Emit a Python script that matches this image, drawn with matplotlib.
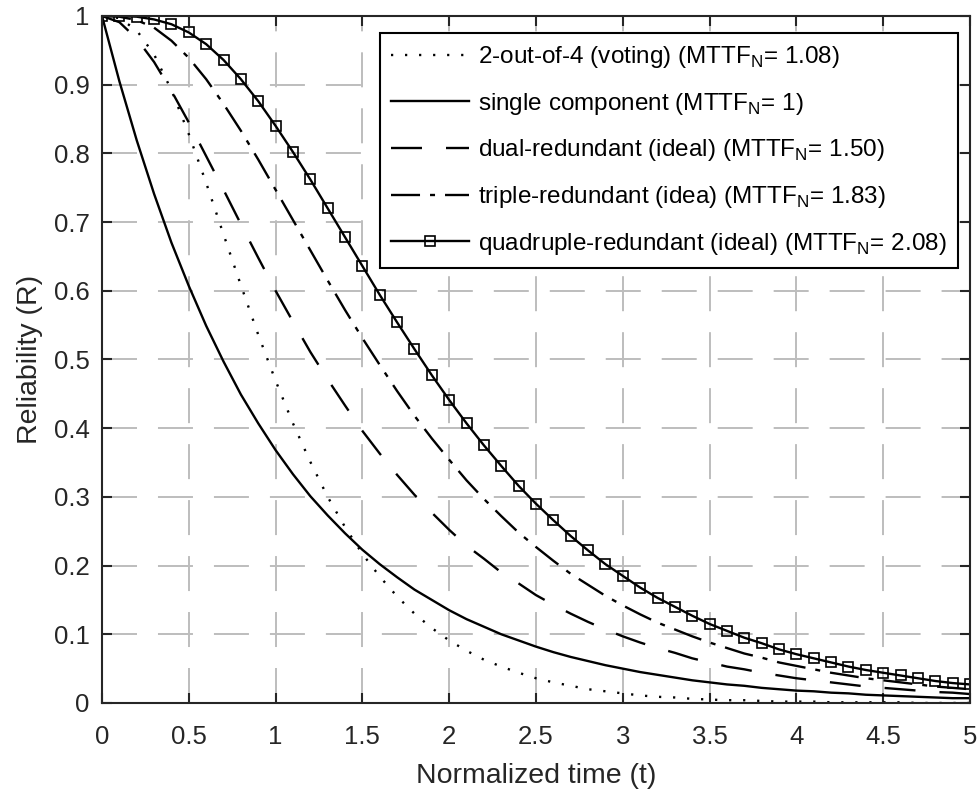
import numpy as np
import matplotlib
matplotlib.use('Agg')
import matplotlib.pyplot as plt

plt.rcParams['font.family'] = ['Liberation Sans', 'DejaVu Sans']
plt.rcParams['mathtext.fontset'] = 'custom'
plt.rcParams['mathtext.rm'] = 'Liberation Sans'
plt.rcParams['lines.scale_dashes'] = False

# normalized time, step 0.1 from 0 to 5
t = [round(0.1 * i, 1) for i in range(51)]

r_voting = [1.000, 0.997, 0.979, 0.944, 0.892, 0.828, 0.757, 0.682, 0.608, 0.536,
            0.469, 0.407, 0.351, 0.300, 0.256, 0.217, 0.184, 0.155, 0.130, 0.109,
            0.091, 0.076, 0.063, 0.053, 0.044, 0.036, 0.030, 0.025, 0.020, 0.017,
            0.014, 0.011, 0.009, 0.008, 0.006, 0.005, 0.004, 0.004, 0.003, 0.002,
            0.002, 0.002, 0.001, 0.001, 0.001, 0.001, 0.001, 0.000, 0.000, 0.000,
            0.000]
r_single = [1.000, 0.905, 0.819, 0.741, 0.670, 0.607, 0.549, 0.497, 0.449, 0.407,
            0.368, 0.333, 0.301, 0.273, 0.247, 0.223, 0.202, 0.183, 0.165, 0.150,
            0.135, 0.122, 0.111, 0.100, 0.091, 0.082, 0.074, 0.067, 0.061, 0.055,
            0.050, 0.045, 0.041, 0.037, 0.033, 0.030, 0.027, 0.025, 0.022, 0.020,
            0.018, 0.017, 0.015, 0.014, 0.012, 0.011, 0.010, 0.009, 0.008, 0.007,
            0.007]
r_dual = [1.000, 0.991, 0.967, 0.933, 0.891, 0.845, 0.796, 0.747, 0.697, 0.648,
          0.600, 0.555, 0.511, 0.471, 0.433, 0.396, 0.363, 0.332, 0.303, 0.277,
          0.252, 0.229, 0.210, 0.190, 0.174, 0.157, 0.143, 0.130, 0.118, 0.107,
          0.097, 0.088, 0.080, 0.073, 0.065, 0.059, 0.053, 0.049, 0.044, 0.040,
          0.036, 0.033, 0.030, 0.027, 0.024, 0.022, 0.020, 0.018, 0.016, 0.015,
          0.013]
r_triple = [1.000, 0.999, 0.994, 0.983, 0.964, 0.939, 0.908, 0.872, 0.833, 0.791,
            0.747, 0.703, 0.659, 0.615, 0.572, 0.531, 0.492, 0.454, 0.418, 0.385,
            0.354, 0.324, 0.297, 0.272, 0.248, 0.227, 0.207, 0.188, 0.172, 0.156,
            0.142, 0.129, 0.117, 0.107, 0.097, 0.088, 0.080, 0.072, 0.066, 0.059,
            0.054, 0.049, 0.044, 0.040, 0.036, 0.033, 0.030, 0.027, 0.024, 0.022,
            0.020]
r_quad = [1.000, 1.000, 0.999, 0.995, 0.988, 0.976, 0.959, 0.936, 0.908, 0.876,
          0.840, 0.802, 0.762, 0.720, 0.678, 0.636, 0.594, 0.554, 0.515, 0.477,
          0.441, 0.407, 0.375, 0.345, 0.316, 0.290, 0.266, 0.243, 0.222, 0.202,
          0.185, 0.168, 0.153, 0.140, 0.127, 0.115, 0.105, 0.095, 0.087, 0.078,
          0.071, 0.065, 0.059, 0.053, 0.048, 0.044, 0.040, 0.036, 0.032, 0.029,
          0.027]

labels = ['2-out-of-4 (voting) (MTTF$_\\mathrm{N}$= 1.08)',
          'single component (MTTF$_\\mathrm{N}$= 1)',
          'dual-redundant (ideal) (MTTF$_\\mathrm{N}$= 1.50)',
          'triple-redundant (idea) (MTTF$_\\mathrm{N}$= 1.83)',
          'quadruple-redundant (ideal) (MTTF$_\\mathrm{N}$= 2.08)']

dark = '#262626'
lw = 1.7

fig = plt.figure(figsize=(9.8, 7.92), dpi=100)
ax = fig.add_axes([0.1041, 0.1124, 0.8857, 0.8674])

ax.plot(t, r_voting, color='k', lw=lw, linestyle=(0, (1.6, 8.5)), label=labels[0])
ax.plot(t, r_single, color='k', lw=lw, linestyle='-', label=labels[1])
ax.plot(t, r_dual, color='k', lw=lw, linestyle=(0, (22.3, 17.3)), label=labels[2])
ax.plot(t, r_triple, color='k', lw=lw, linestyle=(0, (20.9, 7.2, 3.6, 7.2)), label=labels[3])
ax.plot(t, r_quad, color='k', lw=lw, linestyle='-', marker='s', markersize=6.5,
        markerfacecolor='none', markeredgecolor='k', markeredgewidth=1.2, label=labels[4])

ax.set_xlim(0, 5)
ax.set_ylim(0, 1)
xt = np.arange(0, 5.01, 0.5)
yt = np.arange(0, 1.01, 0.1)
ax.set_xticks(xt)
ax.set_yticks(yt)
ax.set_xticklabels([f'{v:g}' for v in xt])
ax.set_yticklabels([f'{v:g}' for v in np.round(yt, 1)])

ax.grid(True, color='#bdbdbd', lw=1.4, linestyle=(0, (25.2, 15.1)))
ax.set_axisbelow(True)

for s in ax.spines.values():
    s.set_color(dark)
    s.set_linewidth(1.5)

ax.tick_params(direction='in', length=7.2, width=1.5, color=dark, labelcolor=dark,
               labelsize=18.5, top=True, right=True)
ax.tick_params(axis='x', pad=16)
ax.tick_params(axis='y', pad=9)

ax.set_xlabel('Normalized time (t)', fontsize=20.5, color=dark, labelpad=10)
ax.set_ylabel('Reliability (R)', fontsize=20.5, color=dark, labelpad=8)

leg = ax.legend(loc='upper right', bbox_to_anchor=(0.986, 0.975), borderaxespad=0,
                fontsize=17.5, handlelength=3.2, handletextpad=0.4, borderpad=0.45,
                labelspacing=0.85, fancybox=False, framealpha=1, edgecolor='k')
leg.get_frame().set_linewidth(1.5)
for txt in leg.get_texts():
    txt.set_color('k')

fig.savefig('out.png', dpi=100)
